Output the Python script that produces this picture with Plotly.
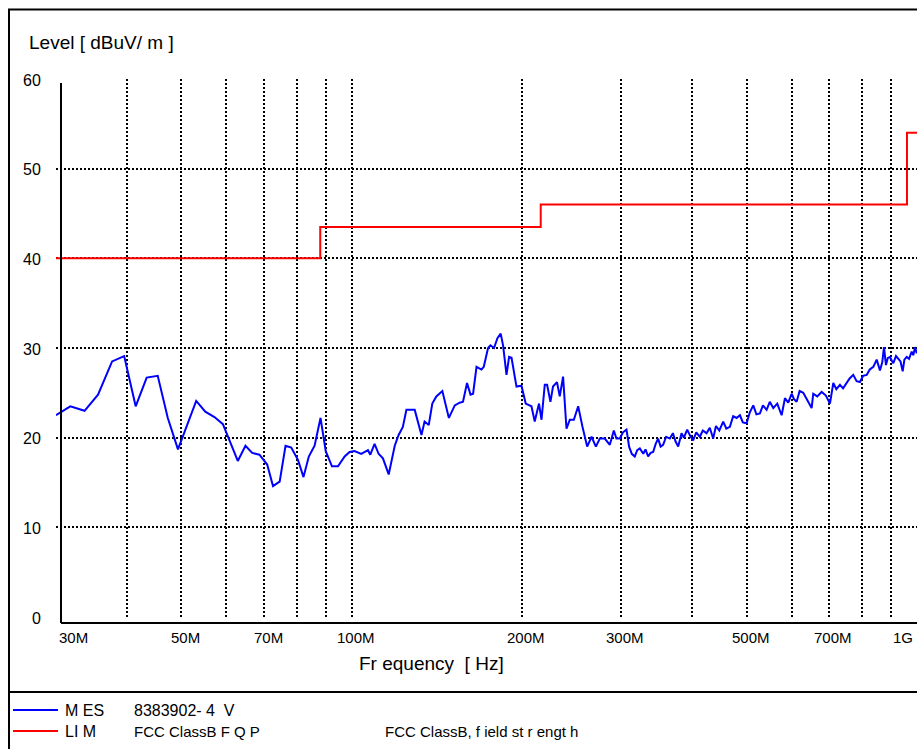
import math
import plotly.graph_objects as go

# ---------------- data ----------------
mes_freq_mhz = [
    30.0, 31.8, 33.7, 35.6, 37.7, 39.6, 41.5, 43.4, 45.4, 47.3, 49.3, 53.1, 55.1, 57.2, 59.2,
    62.9, 64.9, 66.7, 68.7, 70.9, 72.6, 74.6, 76.4, 78.2, 80.4, 82.2, 84.0, 86.0, 88.1, 90.0,
    92.3, 94.6, 97.2, 99.2, 101.2, 104.0, 106.9, 107.9, 109.8, 111.6, 113.6, 116.3, 119.2, 121.1,
    123.2, 125.0, 129.3, 132.9, 134.6, 136.9, 138.9, 141.2, 144.7, 148.6, 152.2, 155.3, 157.4,
    160.0, 162.3, 164.0, 166.3, 169.7, 171.3, 174.3, 176.0, 178.6, 181.1, 183.5, 185.3, 187.9,
    189.9, 191.8, 195.7, 199.7, 203.2, 208.0, 210.8, 214.5, 216.7, 219.6, 221.7, 224.7, 227.1,
    230.8, 233.4, 236.6, 239.9, 243.2, 247.2, 251.6, 256.1, 261.0, 265.7, 270.4, 274.8, 280.4,
    286.2, 290.9, 294.0, 298.1, 302.0, 306.3, 309.6, 313.0, 316.8, 320.0, 323.4, 328.0, 331.0,
    334.5, 338.0, 341.4, 345.0, 348.4, 352.0, 355.6, 360.0, 365.5, 370.0, 374.0, 378.1, 383.3,
    387.0, 392.2, 397.0, 401.8, 407.0, 412.9, 418.0, 424.4, 430.0, 436.0, 441.0, 447.0, 454.2,
    460.0, 466.7, 473.0, 479.7, 486.2, 492.0, 499.6, 506.0, 513.3, 520.0, 527.4, 534.0, 542.0,
    549.0, 556.9, 566.0, 576.2, 584.0, 592.0, 600.1, 606.0, 612.5, 620.0, 629.2, 640.0, 651.1,
    655.4, 666.0, 678.2, 690.0, 701.5, 711.1, 720.0, 730.7, 740.0, 750.9, 760.0, 771.4, 782.0,
    792.7, 803.0, 814.7, 825.0, 837.0, 848.6, 860.0, 868.0, 874.2, 881.3, 888.0, 895.8, 902.0,
    908.0, 918.0, 926.7, 935.0, 943.4, 950.0, 959.0, 968.0, 978.6, 985.0, 992.0, 999.0,
]
mes_level = [
    22.5, 23.5, 23.0, 24.8, 28.5, 29.1, 23.5, 26.7, 26.9, 22.2, 18.7, 24.1, 22.9, 22.3, 21.5,
    17.4, 19.1, 18.3, 18.1, 17.0, 14.6, 15.1, 19.1, 18.9, 17.5, 15.6, 17.9, 19.1, 22.2, 18.5,
    16.8, 16.8, 17.9, 18.4, 18.5, 18.2, 18.6, 18.1, 19.3, 18.2, 17.7, 15.9, 19.1, 20.3,
    21.2, 23.1, 23.1, 20.3, 21.8, 21.4, 23.8, 24.6, 25.2, 22.2, 23.6, 23.9, 24.0,
    26.1, 24.8, 24.9, 27.9, 27.6, 27.9, 30.0, 30.3, 30.0, 31.1, 31.6, 30.3, 27.0,
    29.0, 28.9, 25.7, 25.8, 23.8, 23.5, 21.8, 23.8, 22.0, 25.9, 25.9, 24.0, 25.7,
    26.2, 24.6, 26.8, 21.0, 22.0, 22.0, 23.5, 21.2, 19.0, 20.1, 19.0, 19.9, 19.9,
    19.2, 20.8, 19.9, 19.9, 20.6, 20.9, 19.0, 18.2, 17.9, 18.6, 18.8, 18.2, 18.7,
    17.9, 18.3, 18.4, 19.3, 19.9, 19.0, 19.2, 20.1, 19.9, 20.5, 19.6, 19.0, 20.5,
    20.0, 20.9, 20.2, 19.7, 20.6, 20.1, 20.8, 20.5, 21.1, 19.9, 21.3, 20.8, 21.8,
    21.0, 21.2, 22.4, 22.2, 22.5, 21.7, 21.6, 22.8, 23.6, 22.6, 22.7, 23.6, 23.1,
    24.0, 23.3, 23.8, 22.5, 24.4, 23.9, 24.9, 24.3, 24.0, 25.2, 25.0, 24.2, 23.3,
    24.9, 24.6, 25.1, 24.7, 23.8, 26.1, 25.4, 25.9, 25.5, 26.1, 26.6, 27.0, 26.3,
    26.2, 26.9, 27.0, 27.6, 27.9, 28.7, 27.5, 28.4, 30.1, 28.1, 28.9, 29.0, 28.6,
    28.3, 29.1, 28.8, 28.5, 27.4, 28.7, 29.0, 28.8, 29.6, 29.2, 30.1, 29.4,
]

lim_freq_mhz = [30, 88, 216, 960, 1000]
lim_level = [40, 43.5, 46, 54, 54]

x_grid_mhz = [40, 50, 60, 70, 80, 90, 100, 200, 300, 400, 500, 600, 700, 800, 900]
x_tick_mhz = [30, 50, 70, 100, 200, 300, 500, 700, 1000]
x_tick_text = ["30M", "50M", "70M", "100M", "200M", "300M", "500M", "700M", "1G"]
y_grid = [10, 20, 30, 40, 50, 60]
y_tick = [0, 10, 20, 30, 40, 50, 60]

# ---------------- layout geometry (screen pixels; body margin removed) ----------------
W, H = 917, 749
L, R, T, B = 56, 0, 79, 132
PW, PH = W - L - R, H - T - B


def px(xs):
    return (xs - L) / PW


def py(ys):
    return (T + PH - ys) / PH


FONT = "Liberation Sans, Arial, sans-serif"
FS = 16
FS_TICK = 15
FS_TITLE = 19
FS_LEG = 15

fig = go.Figure()
fig.add_trace(go.Scatter(x=mes_freq_mhz, y=mes_level, mode="lines",
                         line=dict(color="#0000ff", width=2), showlegend=False,
                         name="MES"))
fig.add_trace(go.Scatter(x=lim_freq_mhz, y=lim_level, mode="lines",
                         line=dict(color="#ff0000", width=2, shape="hv"), showlegend=False,
                         name="LIM"))

annotations = []
for v, t in zip(x_tick_mhz, x_tick_text):
    if t == "30M":
        anc, sh = "left", 1
    elif t == "1G":
        anc, sh = "right", -2
    else:
        anc, sh = "center", 4
    annotations.append(dict(x=math.log10(v), xref="x", y=py(637), yref="paper",
                            text=t, showarrow=False, xanchor=anc, yanchor="middle",
                            xshift=sh, font=dict(family=FONT, size=FS_TICK, color="black")))
for v in y_tick:
    annotations.append(dict(x=px(43), xref="paper", y=v, yref="y", text=str(v),
                            showarrow=False, xanchor="right", yanchor="middle", yshift=-1,
                            font=dict(family=FONT, size=FS, color="black")))


def txt(x, y, s, anchor="left", size=FS):
    annotations.append(dict(x=px(x), xref="paper", y=py(y), yref="paper", text=s,
                            showarrow=False, xanchor=anchor, yanchor="middle",
                            font=dict(family=FONT, size=size, color="black")))


txt(27, 42, "Level [ dBuV/ m ]", size=FS_TITLE)
txt(431, 664, "Fr equency  [ Hz]", "center", size=FS_TITLE)
txt(63, 710, "M ES")
txt(132, 710, "8383902- 4  V")
txt(63, 731, "LI M")
txt(132, 731, "FCC ClassB F Q P", size=FS_LEG)
txt(383, 731, "FCC ClassB, f ield st r engt h", size=FS_LEG)

shapes = [
    # outer frame
    dict(type="rect", xref="paper", yref="paper", x0=px(9), x1=px(960), y0=py(790), y1=py(9.5),
         line=dict(color="black", width=2), layer="above"),
    # separator above legend
    dict(type="line", xref="paper", yref="paper", x0=px(8), x1=px(960), y0=py(692), y1=py(692),
         line=dict(color="black", width=2)),
    # offset axis lines
    dict(type="line", xref="paper", yref="paper", x0=px(61), x1=px(61), y0=py(623), y1=py(83),
         line=dict(color="black", width=2)),
    dict(type="line", xref="paper", yref="paper", x0=px(61), x1=px(960), y0=py(623), y1=py(623),
         line=dict(color="black", width=2)),
    # legend samples
    dict(type="line", xref="paper", yref="paper", x0=px(13), x1=px(58), y0=py(710), y1=py(710),
         line=dict(color="#0000ff", width=2)),
    dict(type="line", xref="paper", yref="paper", x0=px(13), x1=px(58), y0=py(731), y1=py(731),
         line=dict(color="#ff0000", width=2)),
]

fig.update_layout(
    width=W, height=H, autosize=False,
    margin=dict(l=L, r=R, t=T, b=B, pad=0),
    paper_bgcolor="white", plot_bgcolor="white",
    font=dict(family=FONT, size=FS, color="black"),
    showlegend=False,
    annotations=annotations,
    shapes=shapes,
    xaxis=dict(type="log", range=[math.log10(30), math.log10(1000)],
               tickmode="array", tickvals=x_grid_mhz, showticklabels=False, ticks="",
               showgrid=True, gridcolor="black", gridwidth=2, griddash="2px,2px",
               zeroline=False, showline=False),
    yaxis=dict(range=[0, 60], tickmode="array", tickvals=y_grid, showticklabels=False,
               ticks="", showgrid=True, gridcolor="black", gridwidth=2, griddash="2px,2px",
               zeroline=False, showline=False),
)

fig.write_html(
    "out.html",
    config={"displayModeBar": False},
    post_script="document.body.style.margin='0px';document.body.style.overflow='hidden';",
)
